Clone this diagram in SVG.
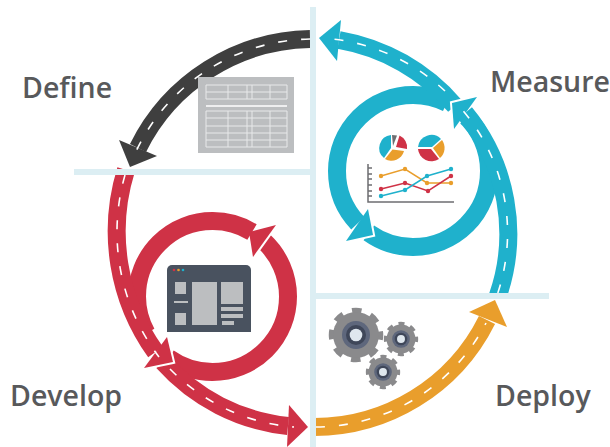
<svg xmlns="http://www.w3.org/2000/svg" width="610" height="447" viewBox="0 0 610 447">
<style>
.road{fill:none;stroke-width:18}
.dash{fill:none;stroke:#fff;stroke-width:1.6;stroke-dasharray:9 14}
.ring{fill:none;stroke-width:18}
.cut{stroke:#fff;stroke-width:4;paint-order:stroke}
.rule{fill:#dceef3}
.lab{font-family:"Open Sans","Liberation Sans",sans-serif;font-weight:600;font-size:28.500px;fill:#58595b}
.red{stroke:#cf3246}.blue{stroke:#1fb1cc}.org{stroke:#e99e2c}.drk{stroke:#3f3f3f}
.fr{fill:#cf3246}.fb{fill:#1fb1cc}.fo{fill:#e99e2c}.fd{fill:#3f3f3f}
.pan{fill:#bcbec0}
.grid{fill:none;stroke:#e8e9ea;stroke-width:1}
.ln{fill:none;stroke-width:1.5}
.tick{fill:none;stroke:#6d6e71;stroke-width:1.5}
</style>
<defs>
<g id="gear">
<circle r="24" fill="none" stroke="#8a8a8c" stroke-width="6.500" stroke-dasharray="9.420 9.430" stroke-dashoffset="4.710"/>
<circle r="23" fill="#8a8a8c"/>
<circle r="14" fill="#5e677c"/>
<circle r="10" fill="#3f4759"/>
<circle r="6.300" fill="#dfe7ee"/>
</g>
</defs>
<g id="connectors">
<path class="road drk" d="M310 39A196 196 0 0 0 138 148"/>
<polygon class="fd" points="130,167 119,140 157,156"/>
<path class="dash" d="M310 39A196 196 0 0 0 133 158"/>

<path class="road org" d="M312 427A193 193 0 0 0 487 320"/>
<polygon class="fo" points="495,300 469,312 507,327"/>
<path class="dash" d="M316 427A193 193 0 0 0 486 323"/>

<path class="ring blue" d="M368.800 232.900A76 76 0 0 0 413 247A76 76 0 0 0 489 171A76 76 0 0 0 464 114.500"/>
<polygon class="fb cut" points="373,235 368,209 346,241"/>
<path class="ring blue" d="M447 103A76 76 0 0 0 413 95A76 76 0 0 0 337 171A76 76 0 0 0 357.780 223.220"/>
<path class="road blue" d="M455 106A197 197 0 0 0 339 40"/>
<polygon class="fb" points="319,38 341,20 337,61"/>
<path class="dash" d="M445 91A197 197 0 0 0 321 38"/>
<polygon class="fb cut" points="452,103 477,97 454,129"/>
<path class="road blue" d="M497.800 296A190 190 0 0 0 465 113"/>
<path class="dash" d="M497.800 293A190 190 0 0 0 459 106"/>

<path class="ring red" d="M168.500 357.900A75.500 75.500 0 0 0 212.500 372A75.500 75.500 0 0 0 288 296.500A75.500 75.500 0 0 0 263.900 241.200"/>
<polygon class="fr cut" points="249,232 276,225 253,257"/>
<path class="ring red" d="M252 232A75.500 75.500 0 0 0 212.500 221A75.500 75.500 0 0 0 137 296.500A75.500 75.500 0 0 0 146.500 333"/>
<path class="road red" d="M163 362A195 195 0 0 0 288 426"/>
<polygon class="fr" points="308,427 289,405 287,447"/>
<path class="dash" d="M170 369A195 195 0 0 0 294 427"/>
<polygon class="fr cut" points="173,362 144,368 167,337"/>
<path class="road red" d="M126 170A207 207 0 0 0 155.500 352"/>
<path class="dash" d="M125 175A207 207 0 0 0 159 357"/>
</g>
<g id="rules">
<rect class="rule" x="310" y="7" width="6" height="440"/>
<rect class="rule" x="74" y="169" width="236" height="6"/>
<rect class="rule" x="316" y="293" width="233" height="6"/>
</g>
<g id="define">
<rect class="pan" x="198" y="77" width="96" height="76"/>
<path class="grid" d="M206 85H287V99H206ZM206 92H287M228 85V99M247 85V99M252 85V99M270 85V99"/>
<rect x="206" y="105" width="81" height="2" fill="#eeeeef"/>
<path class="grid" d="M206 111H287V147H206ZM206 118H287M206 126H287M206 133H287M206 140H287M228 111V147M247 111V147M252 111V147M270 111V147"/>
<text class="lab" x="22" y="98">Define</text>
</g>
<g id="develop">
<path d="M167 332V270a5 5 0 0 1 5-5H246a5 5 0 0 1 5 5V332Z" fill="#49525f"/>
<circle cx="174" cy="270" r="1.300" fill="#cf3246"/>
<circle cx="178.500" cy="270" r="1.300" fill="#e99e2c"/>
<circle cx="183" cy="270" r="1.300" fill="#1fb1cc"/>
<rect class="pan" x="175" y="282" width="11" height="12"/>
<rect class="pan" x="174" y="301" width="14" height="2"/>
<rect class="pan" x="175" y="313" width="11" height="12"/>
<rect class="pan" x="192" y="282" width="25" height="43"/>
<rect class="pan" x="221" y="282" width="22" height="22"/>
<rect class="pan" x="221" y="307" width="22" height="4"/>
<rect class="pan" x="221" y="314" width="22" height="4"/>
<rect class="pan" x="222" y="321" width="12" height="4"/>
<text class="lab" x="10" y="406">Develop</text>
</g>
<g id="deploy">
<use href="#gear" transform="translate(356 335)"/>
<use href="#gear" transform="translate(401 339) scale(.63)"/>
<use href="#gear" transform="translate(383 372) scale(.63)"/>
<text class="lab" x="495" y="406">Deploy</text>
</g>
<g id="measure">
<path d="M391 148L391 135A13 13 0 0 0 384 158Z" fill="#1fb1cc"/>
<path class="fo" d="M392.500 149.500L385 159A13 13 0 0 0 404 151Z"/>
<path d="M393 146L392 135L397 135.500Z" fill="#6d6e71"/>
<path class="fr" d="M396 147L399.500 135.500A13 13 0 0 1 407 149Z"/>
<path d="M418 147A13.500 13.500 0 0 1 441 139L432 147Z" fill="#1fb1cc"/>
<path class="fo" d="M433 148L442 140A13.500 13.500 0 0 1 440 158Z"/>
<path class="fr" d="M418 149L431 149L439 159A13.500 13.500 0 0 1 418 149Z"/>
<path class="tick" d="M368 164V202H454M368 168H372M368 174H372M368 179H372M368 185H372M368 191H372M368 196H372"/>
<polyline class="ln org" points="381,176 405,169 427,183 451,183"/>
<polyline class="ln red" points="381,189 405,183 428,191 451,176"/>
<polyline class="ln blue" points="381,196 405,190 427,176 451,169"/>
<g class="fo"><circle cx="381" cy="176" r="2.200"/><circle cx="405" cy="169" r="2.200"/><circle cx="427" cy="183" r="2.200"/><circle cx="451" cy="183" r="2.200"/></g>
<g class="fr"><circle cx="381" cy="189" r="2.200"/><circle cx="405" cy="183" r="2.200"/><circle cx="428" cy="191" r="2.200"/><circle cx="451" cy="176" r="2.200"/></g>
<g class="fb"><circle cx="381" cy="196" r="2.200"/><circle cx="405" cy="190" r="2.200"/><circle cx="427" cy="176" r="2.200"/><circle cx="451" cy="169" r="2.200"/></g>
<text class="lab" x="490" y="92">Measure</text>
</g>
</svg>
